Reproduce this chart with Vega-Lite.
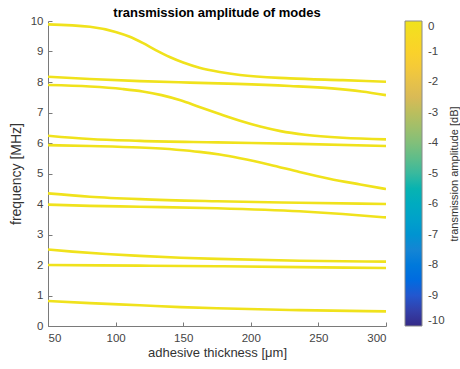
{
  "$schema": "https://vega.github.io/schema/vega-lite/v6.json",
  "width": 338,
  "height": 305,
  "autosize": "none",
  "padding": {"left": 48, "top": 21, "right": 74, "bottom": 43},
  "background": "white",
  "title": {
    "text": "transmission amplitude of modes",
    "fontSize": 13,
    "fontWeight": "bold",
    "font": "Liberation Sans",
    "color": "#000000",
    "anchor": "middle",
    "frame": "group",
    "offset": -5
  },
  "data": {
    "values": [
      {"mode": "A", "t": 50, "f": 9.89, "amp": 0},
      {"mode": "A", "t": 81, "f": 9.81, "amp": 0},
      {"mode": "A", "t": 100, "f": 9.64, "amp": 0},
      {"mode": "A", "t": 110, "f": 9.49, "amp": 0},
      {"mode": "A", "t": 120, "f": 9.28, "amp": 0},
      {"mode": "A", "t": 130, "f": 9.04, "amp": 0},
      {"mode": "A", "t": 140, "f": 8.82, "amp": 0},
      {"mode": "A", "t": 150, "f": 8.64, "amp": 0},
      {"mode": "A", "t": 162, "f": 8.47, "amp": 0},
      {"mode": "A", "t": 177, "f": 8.33, "amp": 0},
      {"mode": "A", "t": 192, "f": 8.23, "amp": 0},
      {"mode": "A", "t": 229, "f": 8.12, "amp": 0},
      {"mode": "A", "t": 268, "f": 8.06, "amp": 0},
      {"mode": "A", "t": 300, "f": 8.01, "amp": 0},

      {"mode": "B", "t": 50, "f": 8.17, "amp": 0},
      {"mode": "B", "t": 81, "f": 8.1, "amp": 0},
      {"mode": "B", "t": 118, "f": 8.03, "amp": 0},
      {"mode": "B", "t": 155, "f": 7.98, "amp": 0},
      {"mode": "B", "t": 190, "f": 7.94, "amp": 0},
      {"mode": "B", "t": 229, "f": 7.87, "amp": 0},
      {"mode": "B", "t": 260, "f": 7.79, "amp": 0},
      {"mode": "B", "t": 282, "f": 7.69, "amp": 0},
      {"mode": "B", "t": 300, "f": 7.57, "amp": 0},

      {"mode": "C", "t": 50, "f": 7.9, "amp": 0},
      {"mode": "C", "t": 81, "f": 7.85, "amp": 0},
      {"mode": "C", "t": 105, "f": 7.77, "amp": 0},
      {"mode": "C", "t": 120, "f": 7.69, "amp": 0},
      {"mode": "C", "t": 134, "f": 7.57, "amp": 0},
      {"mode": "C", "t": 148, "f": 7.40, "amp": 0},
      {"mode": "C", "t": 162, "f": 7.18, "amp": 0},
      {"mode": "C", "t": 177, "f": 6.95, "amp": 0},
      {"mode": "C", "t": 192, "f": 6.73, "amp": 0},
      {"mode": "C", "t": 207, "f": 6.54, "amp": 0},
      {"mode": "C", "t": 222, "f": 6.39, "amp": 0},
      {"mode": "C", "t": 240, "f": 6.27, "amp": 0},
      {"mode": "C", "t": 268, "f": 6.17, "amp": 0},
      {"mode": "C", "t": 300, "f": 6.12, "amp": 0},

      {"mode": "D", "t": 50, "f": 6.24, "amp": 0},
      {"mode": "D", "t": 81, "f": 6.13, "amp": 0},
      {"mode": "D", "t": 118, "f": 6.07, "amp": 0},
      {"mode": "D", "t": 175, "f": 6.02, "amp": 0},
      {"mode": "D", "t": 236, "f": 5.97, "amp": 0},
      {"mode": "D", "t": 300, "f": 5.9, "amp": 0},

      {"mode": "E", "t": 50, "f": 5.93, "amp": 0},
      {"mode": "E", "t": 81, "f": 5.9, "amp": 0},
      {"mode": "E", "t": 118, "f": 5.85, "amp": 0},
      {"mode": "E", "t": 145, "f": 5.78, "amp": 0},
      {"mode": "E", "t": 162, "f": 5.71, "amp": 0},
      {"mode": "E", "t": 177, "f": 5.62, "amp": 0},
      {"mode": "E", "t": 192, "f": 5.5, "amp": 0},
      {"mode": "E", "t": 214, "f": 5.29, "amp": 0},
      {"mode": "E", "t": 236, "f": 5.05, "amp": 0},
      {"mode": "E", "t": 258, "f": 4.83, "amp": 0},
      {"mode": "E", "t": 281, "f": 4.64, "amp": 0},
      {"mode": "E", "t": 300, "f": 4.49, "amp": 0},

      {"mode": "F", "t": 50, "f": 4.35, "amp": 0},
      {"mode": "F", "t": 81, "f": 4.24, "amp": 0},
      {"mode": "F", "t": 118, "f": 4.16, "amp": 0},
      {"mode": "F", "t": 175, "f": 4.09, "amp": 0},
      {"mode": "F", "t": 236, "f": 4.04, "amp": 0},
      {"mode": "F", "t": 300, "f": 4.0, "amp": 0},

      {"mode": "G", "t": 50, "f": 3.98, "amp": 0},
      {"mode": "G", "t": 81, "f": 3.94, "amp": 0},
      {"mode": "G", "t": 118, "f": 3.91, "amp": 0},
      {"mode": "G", "t": 175, "f": 3.86, "amp": 0},
      {"mode": "G", "t": 236, "f": 3.76, "amp": 0},
      {"mode": "G", "t": 268, "f": 3.67, "amp": 0},
      {"mode": "G", "t": 300, "f": 3.56, "amp": 0},

      {"mode": "H", "t": 50, "f": 2.51, "amp": 0},
      {"mode": "H", "t": 68, "f": 2.44, "amp": 0},
      {"mode": "H", "t": 93, "f": 2.36, "amp": 0},
      {"mode": "H", "t": 118, "f": 2.3, "amp": 0},
      {"mode": "H", "t": 148, "f": 2.24, "amp": 0},
      {"mode": "H", "t": 175, "f": 2.2, "amp": 0},
      {"mode": "H", "t": 236, "f": 2.14, "amp": 0},
      {"mode": "H", "t": 300, "f": 2.11, "amp": 0},

      {"mode": "I", "t": 50, "f": 2.0, "amp": 0},
      {"mode": "I", "t": 118, "f": 1.98, "amp": 0},
      {"mode": "I", "t": 175, "f": 1.96, "amp": 0},
      {"mode": "I", "t": 236, "f": 1.93, "amp": 0},
      {"mode": "I", "t": 300, "f": 1.9, "amp": 0},

      {"mode": "J", "t": 50, "f": 0.82, "amp": 0},
      {"mode": "J", "t": 81, "f": 0.75, "amp": 0},
      {"mode": "J", "t": 118, "f": 0.68, "amp": 0},
      {"mode": "J", "t": 148, "f": 0.62, "amp": 0},
      {"mode": "J", "t": 175, "f": 0.58, "amp": 0},
      {"mode": "J", "t": 236, "f": 0.52, "amp": 0},
      {"mode": "J", "t": 300, "f": 0.48, "amp": 0}
    ]
  },
  "mark": {"type": "line", "strokeWidth": 2.6, "interpolate": "monotone", "clip": true},
  "encoding": {
    "x": {
      "field": "t",
      "type": "quantitative",
      "scale": {"domain": [50, 300], "nice": false, "zero": false},
      "axis": {
        "title": "adhesive thickness [μm]",
        "values": [50, 100, 150, 200, 250, 300],
        "grid": false,
        "tickSize": -4,
        "labelPadding": 10,
        "titlePadding": 3
      }
    },
    "y": {
      "field": "f",
      "type": "quantitative",
      "scale": {"domain": [0, 10], "nice": false},
      "axis": {
        "title": "frequency [MHz]",
        "titleFontSize": 14,
        "values": [0, 1, 2, 3, 4, 5, 6, 7, 8, 9, 10],
        "grid": false,
        "tickSize": -4,
        "labelPadding": 9,
        "titlePadding": 7
      }
    },
    "detail": {"field": "mode"},
    "color": {
      "field": "amp",
      "type": "quantitative",
      "scale": {
        "domain": [-10, 0],
        "range": ["#352A87", "#0363E1", "#1485D4", "#06A7C6", "#38B99E", "#92BF73", "#D9BA56", "#FCCE2E", "#F0E21C"]
      },
      "legend": {
        "title": "transmission amplitude [dB]",
        "values": [-10, -9, -8, -7, -6, -5, -4, -3, -2, -1, 0],
        "labelExpr": "replace(datum.label, '−', '-')",
        "gradientLength": 305,
        "gradientThickness": 17,
        "gradientStrokeColor": "#8a8a8a",
        "gradientStrokeWidth": 1,
        "labelFontSize": 11.5,
        "labelColor": "#444444",
        "labelFont": "Liberation Sans",
        "labelOffset": 6,
        "titleOrient": "right",
        "titleFontSize": 11,
        "titleFontWeight": "normal",
        "titleColor": "#333333",
        "titleFont": "Liberation Sans",
        "titleAnchor": "middle",
        "titlePadding": 4,
        "offset": 19,
        "padding": 0,
        "encode": {
          "title": {"update": {"angle": {"value": -90}, "baseline": {"value": "top"}}}
        }
      }
    }
  },
  "config": {
    "view": {"stroke": null},
    "axis": {
      "domainColor": "#7a7a7a",
      "tickColor": "#7a7a7a",
      "labelColor": "#444444",
      "labelFont": "Liberation Sans",
      "labelFontSize": 11.5,
      "titleFont": "Liberation Sans",
      "titleFontSize": 13,
      "titleFontWeight": "normal",
      "titleColor": "#333333"
    }
  }
}
